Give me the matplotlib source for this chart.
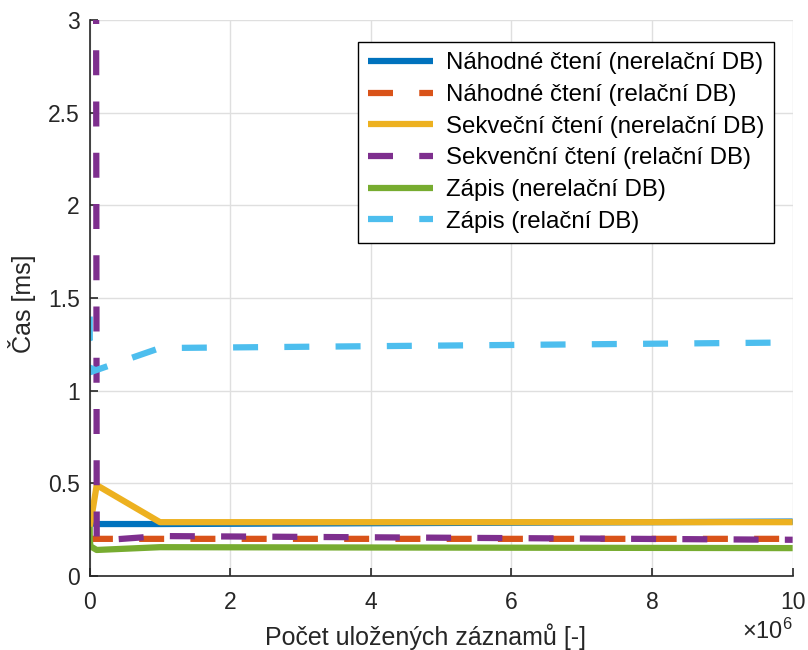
import matplotlib
matplotlib.use("Agg")
import matplotlib.pyplot as plt
from matplotlib.ticker import FuncFormatter, FormatStrFormatter

plt.rcParams["font.family"] = ["Liberation Sans", "DejaVu Sans"]
plt.rcParams["mathtext.fontset"] = "custom"
plt.rcParams["mathtext.rm"] = "Liberation Sans"

# x = number of stored records
x = [1e2, 1e3, 1e4, 1e5, 1e6, 1e7]
x_zapis_rel = [1e2, 1e3, 1e5, 1e4, 1e6, 1e7]

nahodne_nerel = [0.38, 0.30, 0.285, 0.28, 0.28, 0.293]
nahodne_rel = [0.21, 0.20, 0.20, 0.20, 0.20, 0.20]
sekv_nerel = [0.265, 0.27, 0.28, 0.49, 0.29, 0.29]
sekv_rel = [31.0, 32.0, 30.0, 0.19, 0.215, 0.195]
zapis_nerel = [0.265, 0.20, 0.16, 0.14, 0.155, 0.15]
zapis_rel = [1.40, 1.27, 1.18, 1.10, 1.23, 1.26]

labels = [
    "Náhodné čtení (nerelační DB)",
    "Náhodné čtení (relační DB)",
    "Sekveční čtení (nerelační DB)",
    "Sekvenční čtení (relační DB)",
    "Zápis (nerelační DB)",
    "Zápis (relační DB)",
]
colors = ["#0072BD", "#D95319", "#EDB120", "#7E2F8E", "#77AC30", "#4DBEEE"]

fig = plt.figure(figsize=(8.08, 6.5), dpi=100)
ax = fig.add_axes([0.111, 0.114, 0.870, 0.855])

lw = 4.5
dash = (4.0, 4.2)
series = [
    (x, nahodne_nerel, False),
    (x, nahodne_rel, True),
    (x, sekv_nerel, False),
    (x, sekv_rel, True),
    (x, zapis_nerel, False),
    (x_zapis_rel, zapis_rel, True),
]
for (xs, ys, dashed), lab, c in zip(series, labels, colors):
    line, = ax.plot(xs, ys, color=c, lw=lw, label=lab,
                    solid_capstyle="butt", dash_capstyle="butt")
    if dashed:
        line.set_dashes(dash)

ax.set_xlim(0, 1e7)
ax.set_ylim(0, 3)
ax.set_xticks([0, 2e6, 4e6, 6e6, 8e6, 1e7])
ax.set_yticks([0, 0.5, 1, 1.5, 2, 2.5, 3])
ax.xaxis.set_major_formatter(FuncFormatter(lambda v, p: f"{v / 1e6:g}"))
ax.yaxis.set_major_formatter(FormatStrFormatter("%g"))
ax.text(1.0, -0.077, r"$\times\mathdefault{10^{6}}$", transform=ax.transAxes,
        ha="right", va="top", fontsize=17, color="#262626")

ax.grid(True, color="#dfdfdf", lw=1)
ax.set_axisbelow(True)
for s in ["top", "right"]:
    ax.spines[s].set_visible(False)
for s in ["left", "bottom"]:
    ax.spines[s].set_color("#262626")
    ax.spines[s].set_linewidth(1.2)
ax.tick_params(direction="in", length=6, width=1.2, labelsize=16.5,
               colors="#262626", labelcolor="#262626")
ax.tick_params(axis="y", pad=7)
ax.tick_params(axis="x", pad=11)

ax.set_xlabel("Počet uložených záznamů [-]", fontsize=18, color="#262626")
ax.xaxis.set_label_coords(0.478, -0.085, transform=ax.transAxes)
ax.xaxis.label.set_va("top")
ax.set_ylabel("Čas [ms]", fontsize=18, color="#262626")
ax.yaxis.set_label_coords(-0.076, 0.49)

leg = ax.legend(loc="upper right", bbox_to_anchor=(0.974, 0.960),
                borderaxespad=0, fontsize=17.3, fancybox=False, framealpha=1,
                edgecolor="black", handlelength=2.7, handletextpad=0.55,
                labelspacing=0.4, borderpad=0.42)
leg.get_frame().set_linewidth(1.0)

fig.savefig("out.png", dpi=100)
